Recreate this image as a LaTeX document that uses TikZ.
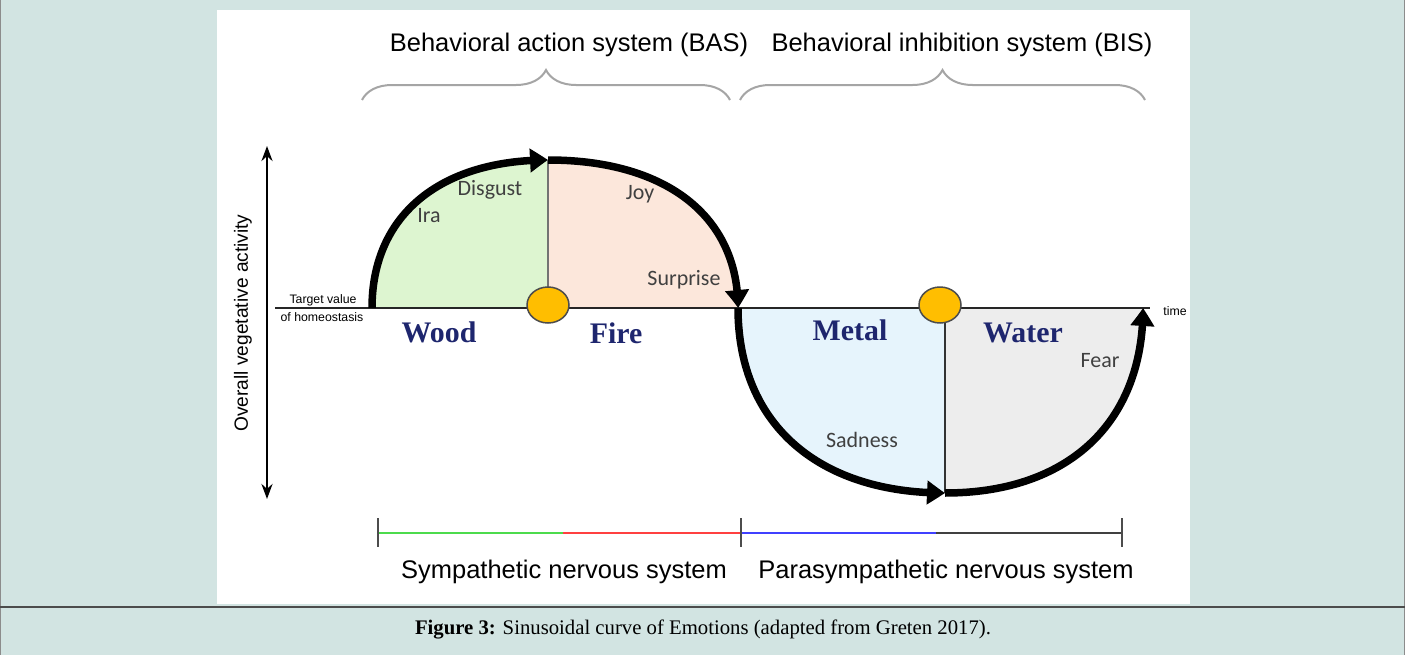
\documentclass[tikz,border=0pt]{standalone}
\usepackage{fontspec}
\setmainfont{Liberation Serif}
\setsansfont{Liberation Sans}
\newfontfamily\calfont{Carlito}
\usepackage{xcolor}
\definecolor{bgteal}{RGB}{210,228,226}
\definecolor{woodgreen}{RGB}{221,245,208}
\definecolor{firepeach}{RGB}{252,231,219}
\definecolor{metalblue}{RGB}{230,244,252}
\definecolor{watergray}{RGB}{237,237,237}
\definecolor{elemnavy}{RGB}{30,38,110}
\definecolor{dotorange}{RGB}{255,190,0}
\definecolor{bracegray}{RGB}{165,165,165}
\definecolor{textgray}{RGB}{64,64,64}
\usetikzlibrary{arrows.meta,bending,positioning,shapes.geometric,decorations.pathreplacing}

\begin{document}
\begin{tikzpicture}[x=0.02cm, y=-0.02cm,
    curve/.style={line width=0.15cm, -{Triangle[length=0.36cm, width=0.46cm, bend]}},
    element/.style={font=\fontsize{17}{20}\selectfont\bfseries, text=elemnavy},
    emotion/.style={font=\calfont\fontsize{12.5}{15}\selectfont, text=textgray},
    system/.style={font=\sffamily\fontsize{14.5}{17}\selectfont},
    tiny/.style={font=\sffamily\fontsize{7}{8}\selectfont, inner sep=0pt},
    setpoint/.style={ellipse, draw=black!70, line width=0.03cm, fill=dotorange,
                     minimum width=0.84cm, minimum height=0.72cm, inner sep=0pt},
    systembrace/.style={draw=bracegray, line width=0.04cm, decorate,
                        decoration={brace, amplitude=0.6cm}}]
  \useasboundingbox (0,0) rectangle (1405,655);
  % page and caption frame
  \fill[bgteal] (0,0) rectangle (1405,655);
  \draw[black!45, line width=0.03cm] (0.5,-5) -- (0.5,660) (1404.5,-5) -- (1404.5,660);
  \fill[white] (217,10) rectangle (1190,604);
  \draw[black!70, line width=0.03cm] (0,607) -- (1405,607);
  \node[font=\fontsize{11.8}{14}\selectfont] (caption) at (703,629)
    {\textbf{Figure 3:} Sinusoidal curve of Emotions (adapted from Greten 2017).};

  % key points of the curve
  \coordinate (startW) at (372,308);
  \coordinate (topA) at (548,160);
  \coordinate (midA) at (548,308);
  \coordinate (crossX) at (738,308);
  \coordinate (botB) at (945,493);
  \coordinate (midB) at (945,308);
  \coordinate (endW) at (1143,308);

  % quarter regions
  \fill[woodgreen] (startW) .. controls (372,216) and (439,160) .. (topA) -- (midA) -- cycle;
  \fill[firepeach] (topA) .. controls (666,160) and (738,216) .. (crossX) -- (midA) -- cycle;
  \fill[metalblue] (crossX) .. controls (738,423) and (817,493) .. (botB) -- (midB) -- cycle;
  \fill[watergray] (botB) .. controls (1068,493) and (1143,423) .. (endW) -- (midB) -- cycle;

  \draw[black!55, line width=0.04cm] (topA) -- (midA);
  \draw[black!80, line width=0.05cm] (botB) -- (midB);

  % homeostasis line and axis
  \coordinate (base0) at (275,308);
  \coordinate (base1) at (1150,308);
  \draw[black!85, line width=0.05cm] (base0) -- (base1);
  \coordinate (axtop) at (267,146);
  \coordinate (axbot) at (267,499);
  \draw[line width=0.05cm, {Stealth[length=0.3cm, width=0.22cm]}-{Stealth[length=0.3cm, width=0.22cm]}] (axtop) -- (axbot);
  \node[font=\sffamily\fontsize{10.9}{13}\selectfont, rotate=90] (axis) at (243,323) {Overall vegetative activity};
  \node[tiny, anchor=south] (target) at (323,306) {Target value};
  \node[tiny, anchor=north] (homeo) at (322,312) {of homeostasis};
  \node[tiny] (time) at (1175,311) {time};

  % the emotion curve
  \draw[curve] (startW) .. controls (372,216) and (439,160) .. (topA);
  \draw[curve] (topA) .. controls (666,160) and (738,216) .. (crossX);
  \draw[curve] (crossX) .. controls (738,423) and (817,493) .. (botB);
  \draw[curve] (botB) .. controls (1068,493) and (1143,423) .. (endW);

  \node[setpoint] (dotA) at (548,305) {};
  \node[setpoint] (dotB) at (940,305) {};

  % labels
  \node[element] (wood) at (439,332) {Wood};
  \node[element] (fire) at (616,333) {Fire};
  \node[element] (metal) at (850,330) {Metal};
  \node[element] (water) at (1023,333) {Water};
  \node[emotion] (disgust) at (490,190) {Disgust};
  \node[emotion] (ira) at (429,216) {Ira};
  \node[emotion] (joy) at (640,194) {Joy};
  \node[emotion] (surprise) at (684,280) {Surprise};
  \node[emotion] (sadness) at (862,440) {Sadness};
  \node[emotion] (fear) at (1100,361) {Fear};

  % behavioral systems
  \node[system] (bas) at (569,45) {Behavioral action system (BAS)};
  \node[system] (bis) at (962,45) {Behavioral inhibition system (BIS)};
  \coordinate (basL) at (362,100);
  \coordinate (basR) at (730,100);
  \coordinate (bisL) at (740,100);
  \coordinate (bisR) at (1145,100);
  \draw[systembrace] (basL) -- (basR);
  \draw[systembrace] (bisL) -- (bisR);

  % nervous systems
  \coordinate (s0) at (378,533);
  \coordinate (s1) at (563,533);
  \coordinate (s2) at (741,533);
  \coordinate (s3) at (936,533);
  \coordinate (s4) at (1122,533);
  \draw[green!80!black!70, line width=0.04cm] (s0) -- (s1);
  \draw[red!75, line width=0.04cm] (s1) -- (s2);
  \draw[blue!75, line width=0.04cm] (s2) -- (s3);
  \draw[black!75, line width=0.04cm] (s3) -- (s4);
  \foreach \t in {s0,s2,s4}
    \draw[black!70, line width=0.03cm] ([yshift=0.3cm]\t) -- ([yshift=-0.28cm]\t);
  \node[system] (sympa) at (564,572) {Sympathetic nervous system};
  \node[system] (para) at (946,572) {Parasympathetic nervous system};
\end{tikzpicture}
\end{document}
